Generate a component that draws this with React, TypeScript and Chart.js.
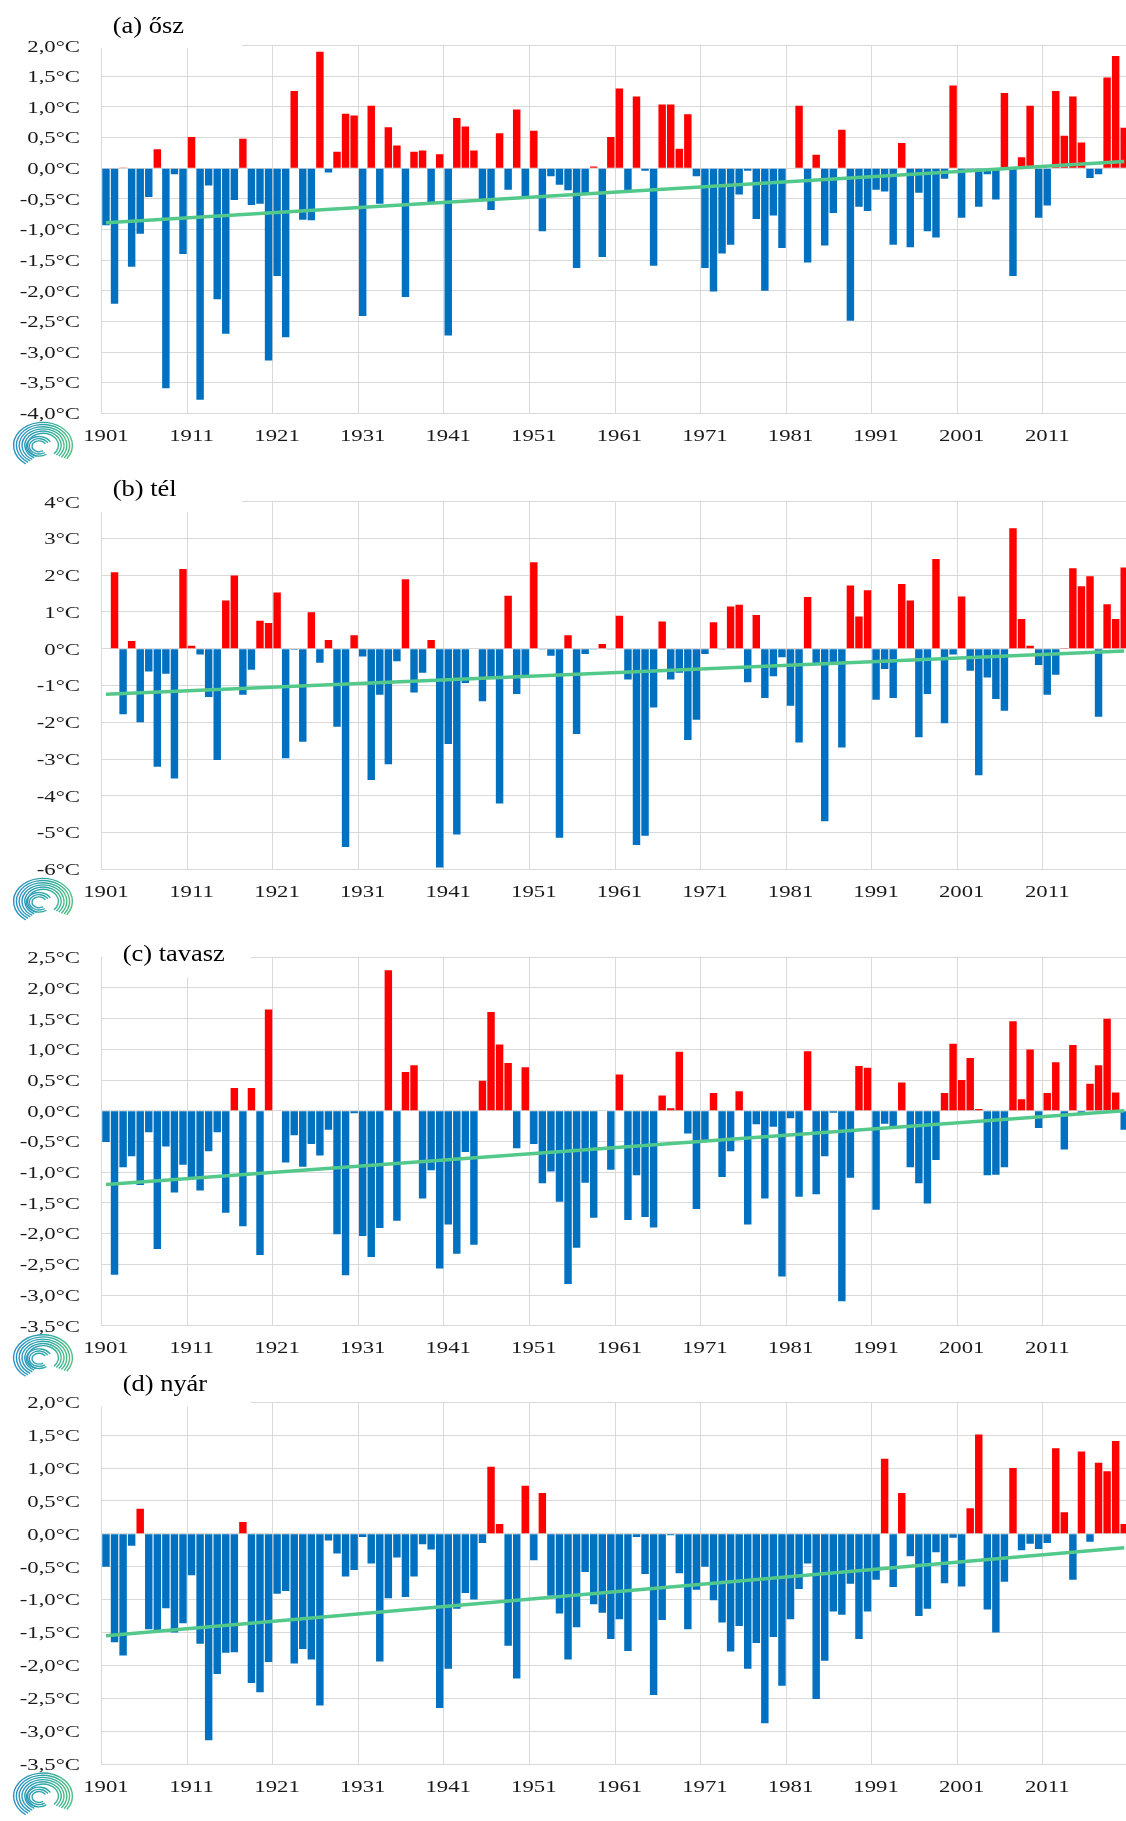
import React, { useEffect, useRef } from "react";
import { Chart, registerables } from "chart.js";

Chart.register(...registerables);

const years = [
  1901, 1902, 1903, 1904, 1905, 1906, 1907, 1908, 1909, 1910,
  1911, 1912, 1913, 1914, 1915, 1916, 1917, 1918, 1919, 1920,
  1921, 1922, 1923, 1924, 1925, 1926, 1927, 1928, 1929, 1930,
  1931, 1932, 1933, 1934, 1935, 1936, 1937, 1938, 1939, 1940,
  1941, 1942, 1943, 1944, 1945, 1946, 1947, 1948, 1949, 1950,
  1951, 1952, 1953, 1954, 1955, 1956, 1957, 1958, 1959, 1960,
  1961, 1962, 1963, 1964, 1965, 1966, 1967, 1968, 1969, 1970,
  1971, 1972, 1973, 1974, 1975, 1976, 1977, 1978, 1979, 1980,
  1981, 1982, 1983, 1984, 1985, 1986, 1987, 1988, 1989, 1990,
  1991, 1992, 1993, 1994, 1995, 1996, 1997, 1998, 1999, 2000,
  2001, 2002, 2003, 2004, 2005, 2006, 2007, 2008, 2009, 2010,
  2011, 2012, 2013, 2014, 2015, 2016, 2017, 2018, 2019, 2020,
];

const xTickYears = [1901, 1911, 1921, 1931, 1941, 1951, 1961, 1971, 1981, 1991, 2001, 2011];

// (a) ősz – autumn anomalies (°C)
const autumnValues = [
  -0.93, -2.21, 0.01, -1.61, -1.07, -0.47, 0.31, -3.59, -0.10, -1.40,
  0.51, -3.78, -0.28, -2.14, -2.70, -0.52, 0.48, -0.60, -0.58, -3.14,
  -1.76, -2.76, 1.26, -0.84, -0.85, 1.90, -0.07, 0.27, 0.89, 0.86,
  -2.41, 1.02, -0.58, 0.67, 0.37, -2.10, 0.27, 0.29, -0.58, 0.23,
  -2.73, 0.82, 0.68, 0.29, -0.51, -0.68, 0.57, -0.35, 0.96, -0.47,
  0.61, -1.03, -0.13, -0.27, -0.36, -1.63, -0.42, 0.03, -1.45, 0.51,
  1.30, -0.38, 1.17, -0.04, -1.59, 1.04, 1.04, 0.32, 0.88, -0.13,
  -1.63, -2.01, -1.39, -1.25, -0.43, -0.04, -0.83, -2.00, -0.77, -1.30,
  -0.01, 1.02, -1.54, 0.22, -1.26, -0.73, 0.63, -2.49, -0.63, -0.70,
  -0.35, -0.38, -1.25, 0.41, -1.29, -0.40, -1.03, -1.13, -0.17, 1.35,
  -0.81, -0.02, -0.63, -0.10, -0.51, 1.23, -1.76, 0.18, 1.02, -0.81,
  -0.61, 1.26, 0.53, 1.17, 0.42, -0.16, -0.10, 1.48, 1.83, 0.66,
];
const autumnTrend = [-0.89, 0.11];
const autumnYTicks = [-4, 2, 0.5];

// (b) tél – winter anomalies (°C)
const winterValues = [
  null, 2.08, -1.78, 0.21, -2.00, -0.62, -3.21, -0.68, -3.53, 2.17,
  0.08, -0.16, -1.31, -3.03, 1.31, 1.99, -1.25, -0.57, 0.76, 0.70,
  1.53, -2.98, -0.03, -2.53, 0.99, -0.38, 0.24, -2.12, -5.39, 0.37,
  -0.21, -3.57, -1.25, -3.14, -0.34, 1.89, -1.19, -0.65, 0.24, -5.95,
  -2.59, -5.05, -0.93, 0.01, -1.43, -0.78, -4.21, 1.44, -1.23, -0.74,
  2.35, -0.02, -0.19, -5.14, 0.37, -2.32, -0.14, -0.02, 0.13, -0.02,
  0.90, -0.84, -5.34, -5.09, -1.60, 0.74, -0.84, -0.65, -2.48, -1.93,
  -0.14, 0.72, -0.02, 1.15, 1.20, -0.91, 0.92, -1.34, -0.75, -0.23,
  -1.55, -2.55, 1.41, -0.41, -4.69, -0.41, -2.69, 1.72, 0.88, 1.59,
  -1.39, -0.55, -1.34, 1.76, 1.31, -2.41, -1.23, 2.44, -2.03, -0.16,
  1.42, -0.60, -3.44, -0.78, -1.37, -1.69, 3.28, 0.81, 0.08, -0.44,
  -1.25, -0.71, 0.02, 2.19, 1.70, 1.97, -1.85, 1.21, 0.81, 2.21,
];
const winterTrend = [-1.24, -0.06];
const winterYTicks = [-6, 4, 1];

// (c) tavasz – spring anomalies (°C)
const springValues = [
  -0.51, -2.67, -0.92, -0.74, -1.21, -0.35, -2.25, -0.58, -1.33, -0.88,
  -1.08, -1.30, -0.66, -0.35, -1.66, 0.37, -1.88, 0.37, -2.35, 1.65,
  0.01, -0.84, -0.40, -0.91, -0.54, -0.73, -0.31, -2.01, -2.68, -0.04,
  -2.04, -2.38, -1.91, 2.29, -1.79, 0.63, 0.74, -1.43, -0.97, -2.57,
  -1.85, -2.33, -0.67, -2.18, 0.49, 1.61, 1.08, 0.78, -0.61, 0.71,
  -0.54, -1.18, -0.99, -1.48, -2.82, -2.23, -1.17, -1.74, 0.0, -0.96,
  0.59, -1.78, -1.05, -1.73, -1.90, 0.25, 0.04, 0.96, -0.37, -1.60,
  -0.49, 0.29, -1.08, -0.66, 0.32, -1.85, -0.22, -1.43, -0.26, -2.70,
  -0.12, -1.40, 0.97, -1.36, -0.74, -0.03, -3.10, -1.09, 0.73, 0.70,
  -1.61, -0.21, -0.27, 0.46, -0.92, -1.18, -1.51, -0.80, 0.29, 1.09,
  0.50, 0.86, 0.03, -1.05, -1.04, -0.92, 1.46, 0.19, 1.00, -0.28,
  0.29, 0.79, -0.63, 1.07, -0.05, 0.44, 0.74, 1.50, 0.30, -0.31,
];
const springTrend = [-1.2, 0.0];
const springYTicks = [-3.5, 2.5, 0.5];

// (d) nyár – summer anomalies (°C)
const summerValues = [
  -0.50, -1.65, -1.85, -0.18, 0.38, -1.45, -1.47, -1.13, -1.50, -1.36,
  -0.63, -1.67, -3.14, -2.13, -1.81, -1.80, 0.18, -2.27, -2.41, -1.95,
  -0.91, -0.87, -1.97, -1.75, -1.91, -2.61, -0.10, -0.30, -0.65, -0.55,
  -0.05, -0.45, -1.94, -0.98, -0.36, -0.96, -0.65, -0.16, -0.24, -2.65,
  -2.05, -1.14, -0.90, -1.00, -0.14, 1.02, 0.15, -1.70, -2.20, 0.73,
  -0.40, 0.62, -0.94, -1.21, -1.91, -1.42, -0.58, -1.07, -1.20, -1.60,
  -1.30, -1.78, -0.05, -0.61, -2.45, -1.31, -0.02, -0.60, -1.45, -0.85,
  -0.50, -1.01, -1.35, -1.79, -1.40, -2.05, -1.66, -2.88, -1.57, -2.31,
  -1.30, -0.84, -0.45, -2.51, -1.93, -1.18, -1.23, -0.76, -1.60, -1.18,
  -0.70, 1.14, -0.81, 0.62, -0.34, -1.25, -1.14, -0.28, -0.75, -0.06,
  -0.80, 0.39, 1.51, -1.15, -1.50, -0.73, 1.00, -0.25, -0.15, -0.23,
  -0.14, 1.30, 0.33, -0.70, 1.25, -0.12, 1.08, 0.95, 1.41, 0.15,
];
const summerTrend = [-1.55, -0.21];
const summerYTicks = [-3.5, 2.0, 0.5];

const panelTitles = ["(a) ősz", "(b) tél", "(c) tavasz", "(d) nyár"];

// layout (page pixel coordinates)
const PANELS = [
  { title: panelTitles[0], values: autumnValues, trend: autumnTrend, yt: autumnYTicks, decimals: 1,
    canvasTop: 0, canvasH: 480, top: 45.7, bottom: 413.3, titleX: 112.7, titleY: 33, boxR: 242, boxB: 48.3, boxL: -1 },
  { title: panelTitles[1], values: winterValues, trend: winterTrend, yt: winterYTicks, decimals: 0,
    canvasTop: 460, canvasH: 470, top: 501.7, bottom: 869.3, titleX: 112.7, titleY: 495.5, boxR: 242, boxB: 511.7, boxL: -1 },
  { title: panelTitles[2], values: springValues, trend: springTrend, yt: springYTicks, decimals: 1,
    canvasTop: 920, canvasH: 460, top: 957.3, bottom: 1325.7, titleX: 122.7, titleY: 961, boxR: 251, boxB: 977.3, boxL: 1 },
  { title: panelTitles[3], values: summerValues, trend: summerTrend, yt: summerYTicks, decimals: 1,
    canvasTop: 1370, canvasH: 451, top: 1402.3, bottom: 1764, titleX: 122.7, titleY: 1391, boxR: 251, boxB: 1406.7, boxL: -1 },
];

const CANVAS_W = 1130;
const PLOT_LEFT = 101.7;
const PLOT_RIGHT = 1128.5;
const RED = "#ff0000";
const BLUE = "#0070c0";
const GRID = "#d9d9d9";
const TREND = "#52c98a";
const TEXT = "#1a1a1a";
const SERIF = '"Liberation Serif", "Times New Roman", serif';

function stretchText(ctx: CanvasRenderingContext2D, text: string, x: number, y: number, size: number, sx: number, align: CanvasTextAlign, color: string) {
  ctx.save();
  ctx.translate(x, y);
  ctx.scale(sx, 1);
  ctx.font = `${size}px ${SERIF}`;
  ctx.fillStyle = color;
  ctx.textAlign = align;
  ctx.textBaseline = "alphabetic";
  ctx.fillText(text, 0, 0);
  ctx.restore();
}

function drawLogo(ctx: CanvasRenderingContext2D, cx: number, cy: number) {
  ctx.save();
  const g = ctx.createLinearGradient(cx - 30, cy, cx + 30, cy);
  g.addColorStop(0, "#2a8fc8");
  g.addColorStop(0.5, "#2fa6a8");
  g.addColorStop(1, "#4fc27c");
  ctx.strokeStyle = g;
  ctx.lineWidth = 1.4;
  for (let k = 0; k < 9; k++) {
    const rx = 7 + k * 2.8;
    const ry = rx * 0.78;
    ctx.beginPath();
    if (k < 3) {
      ctx.ellipse(cx - 4, cy + 1, rx, ry, 0, Math.PI * 0.3, Math.PI * 1.85);
    } else {
      ctx.ellipse(cx, cy, rx, ry, 0, Math.PI * (0.62 + k * 0.01), Math.PI * (2.28 - k * 0.01));
    }
    ctx.stroke();
  }
  ctx.restore();
}

const decorPlugin = {
  id: "decor",
  beforeDatasetsDraw(chart: any, _args: any, opts: any) {
    const { ctx, chartArea } = chart;
    const off = opts.canvasTop;
    ctx.save();
    ctx.fillStyle = "#ffffff";
    const x0 = chartArea.left + opts.boxL;
    ctx.fillRect(x0, chartArea.top - 3, opts.boxR - x0, opts.boxB - off - chartArea.top + 3);
    ctx.restore();
  },
  afterDraw(chart: any, _args: any, opts: any) {
    const { ctx, chartArea } = chart;
    const off = opts.canvasTop;
    stretchText(ctx, opts.title, opts.titleX, opts.titleY - off, 23, 1.15, "left", "#000000");
    const ys = chart.scales.y;
    ys.ticks.forEach((t: any) => {
      const y = ys.getPixelForValue(t.value);
      const label = (Math.abs(t.value) < 1e-9 ? 0 : t.value).toFixed(opts.decimals).replace(".", ",") + "°C";
      stretchText(ctx, label, 80, y + 5.8, 17.5, 1.3, "right", TEXT);
    });
    const xs = chart.scales.x;
    xTickYears.forEach((yr) => {
      const idx = years.indexOf(yr);
      const x = xs.getPixelForValue(idx);
      stretchText(ctx, String(yr), x, chartArea.bottom + 27.5, 17.5, 1.3, "center", TEXT);
    });
    drawLogo(ctx, 43, chartArea.bottom + 32);
  },
};

function Panel({ cfg }: { cfg: any }) {
  const ref = useRef<HTMLCanvasElement | null>(null);
  useEffect(() => {
    if (!ref.current) return;
    const n = years.length;
    const trendData: (number | null)[] = years.map(() => null);
    trendData[0] = cfg.trend[0];
    trendData[n - 1] = cfg.trend[1];
    const xHeight = cfg.canvasH - (cfg.bottom - cfg.canvasTop);
    const chart = new Chart(ref.current, {
      type: "bar",
      data: {
        labels: years.map(String),
        datasets: [
          {
            type: "line",
            data: trendData,
            borderColor: TREND,
            borderWidth: 3.5,
            pointRadius: 0,
            spanGaps: true,
            tension: 0,
            order: 0,
          } as any,
          {
            type: "bar",
            data: cfg.values,
            backgroundColor: cfg.values.map((v: number | null) => (v != null && v >= 0 ? RED : BLUE)),
            borderWidth: 0,
            barPercentage: 0.87,
            categoryPercentage: 1,
            order: 1,
          } as any,
        ],
      },
      plugins: [decorPlugin],
      options: {
        responsive: false,
        animation: false,
        devicePixelRatio: 1,
        events: [],
        layout: {
          padding: { top: cfg.top - cfg.canvasTop, left: 0, right: CANVAS_W - PLOT_RIGHT, bottom: 0 },
        },
        plugins: {
          legend: { display: false },
          tooltip: { enabled: false },
          decor: cfg,
        } as any,
        scales: {
          x: {
            offset: true,
            grid: {
              offset: true,
              drawTicks: false,
              lineWidth: 1,
              color: (c: any) => (c.index % 10 === 0 ? GRID : "rgba(0,0,0,0)"),
            },
            border: { color: GRID, width: 1 },
            ticks: { display: false, autoSkip: false },
            afterFit: (s: any) => {
              s.height = xHeight;
            },
          },
          y: {
            min: cfg.yt[0],
            max: cfg.yt[1],
            ticks: { display: false, stepSize: cfg.yt[2], maxTicksLimit: 100 },
            grid: { color: GRID, drawTicks: false, lineWidth: 1 },
            border: { color: GRID, width: 1 },
            afterFit: (s: any) => {
              s.width = PLOT_LEFT;
            },
          },
        } as any,
      },
    } as any);
    return () => chart.destroy();
  }, [cfg]);
  return (
    <canvas
      ref={ref}
      width={CANVAS_W}
      height={cfg.canvasH}
      style={{ position: "absolute", left: 0, top: cfg.canvasTop, width: CANVAS_W, height: cfg.canvasH, display: "block" }}
    />
  );
}

export default function App() {
  return (
    <div
      style={{
        position: "absolute",
        left: 0,
        top: 0,
        width: 1126,
        height: 1821,
        overflow: "hidden",
        background: "#ffffff",
      }}
    >
      {PANELS.map((p, i) => (
        <Panel key={i} cfg={p} />
      ))}
    </div>
  );
}
